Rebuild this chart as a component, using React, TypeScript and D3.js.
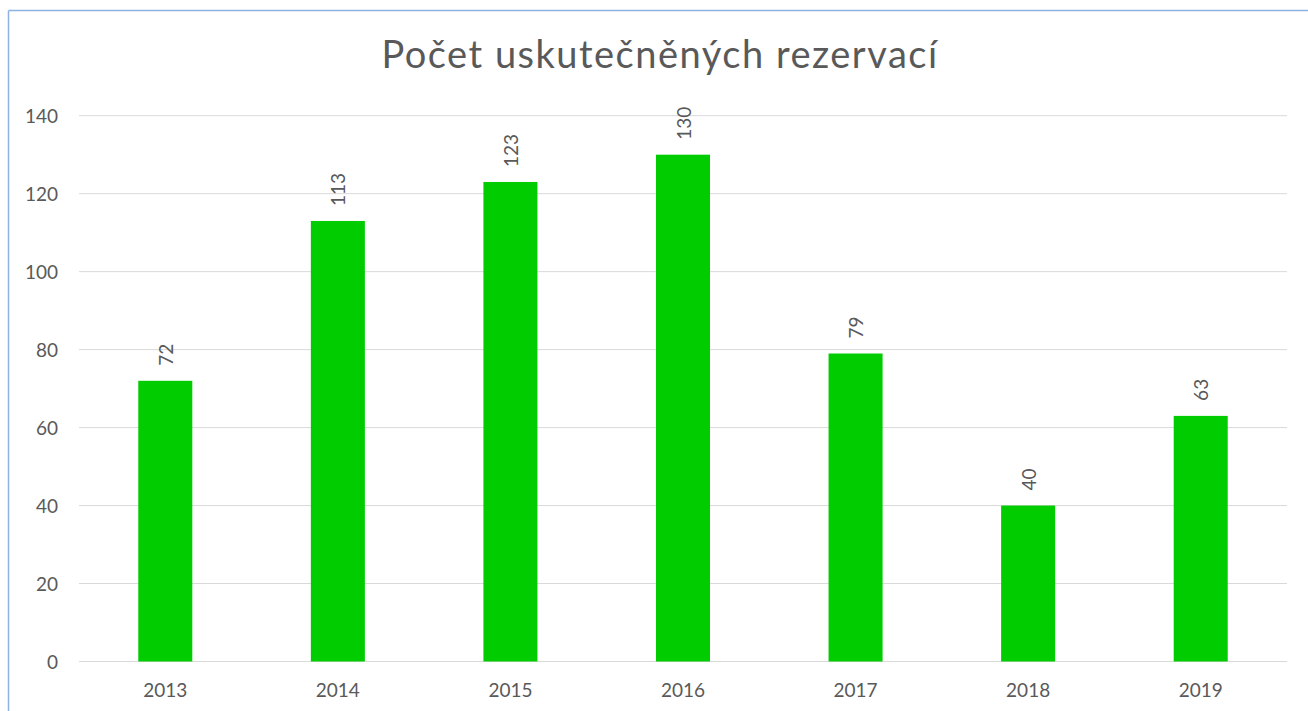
import React from "react";
import * as d3 from "d3";

const title = "Počet uskutečněných rezervací";
const categories = ["2013", "2014", "2015", "2016", "2017", "2018", "2019"];
const values = [72, 113, 123, 130, 79, 40, 63];
const yTicks = [0, 20, 40, 60, 80, 100, 120, 140];

const W = 1308;
const H = 711;
const plot = { left: 79, right: 1287, top: 115.7, bottom: 661.5 };
const font = "Lato, 'Open Sans', sans-serif";
const textColor = "#595959";

export default function App() {
  const x = d3
    .scaleBand<string>()
    .domain(categories)
    .range([plot.left, plot.right])
    .paddingInner(0.687)
    .paddingOuter(0.687 / 2);
  const y = d3.scaleLinear().domain([0, 140]).range([plot.bottom, plot.top]);

  return (
    <svg
      width={W}
      height={H}
      style={{ position: "absolute", left: 0, top: 0, background: "#fff" }}
    >
      <rect x={0} y={0} width={W} height={H} fill="#fff" />
      {/* container border */}
      <line x1={8.5} y1={10.5} x2={W + 10} y2={10.5} stroke="#8db3e2" strokeWidth={1.5} />
      <line x1={8.5} y1={10.5} x2={8.5} y2={H + 10} stroke="#8db3e2" strokeWidth={1.5} />

      <text
        x={660}
        y={68}
        textAnchor="middle"
        fontFamily={font}
        fontSize={38}
        letterSpacing={1.5}
        fill={textColor}
      >
        {title}
      </text>

      {yTicks.map((t) => (
        <g key={t}>
          <line
            x1={plot.left}
            x2={plot.right}
            y1={y(t)}
            y2={y(t)}
            stroke="#d9d9d9"
            strokeWidth={1}
          />
          <text
            x={58}
            y={y(t)}
            textAnchor="end"
            dominantBaseline="central"
            fontFamily={font}
            fontSize={19}
            fill={textColor}
          >
            {t}
          </text>
        </g>
      ))}

      {categories.map((c, i) => {
        const bx = x(c)!;
        const bw = x.bandwidth();
        const cx = bx + bw / 2;
        const top = y(values[i]);
        return (
          <g key={c}>
            <rect x={bx} y={top} width={bw} height={y(0) - top} fill="#00cc00" />
            <text
              transform={`translate(${cx},${top - 15}) rotate(-90)`}
              textAnchor="start"
              dominantBaseline="central"
              fontFamily={font}
              fontSize={19}
              fill={textColor}
            >
              {values[i]}
            </text>
            <text
              x={cx}
              y={697}
              textAnchor="middle"
              fontFamily={font}
              fontSize={19}
              fill={textColor}
            >
              {c}
            </text>
          </g>
        );
      })}
    </svg>
  );
}
